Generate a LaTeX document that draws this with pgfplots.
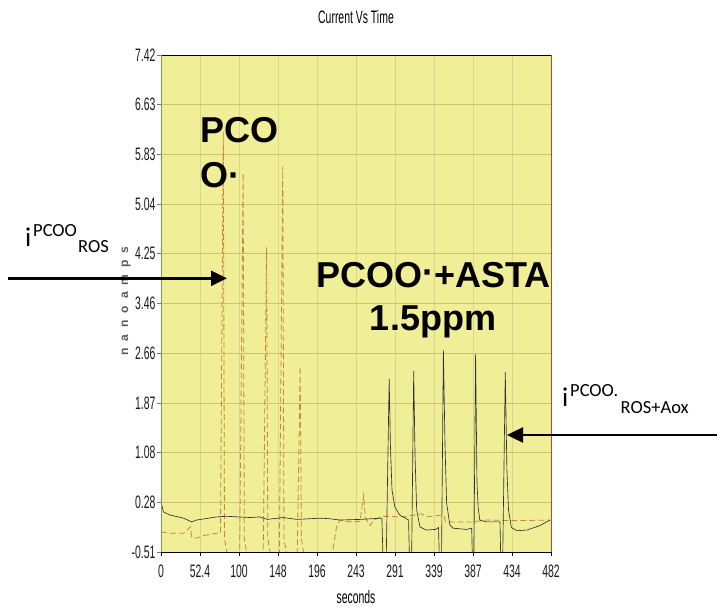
\documentclass[border=0pt]{standalone}
\usepackage{fontspec}
\setmainfont{Liberation Sans}
\newfontfamily\narrow[FakeStretch=0.58]{Liberation Sans}
\newfontfamily\calib{Carlito}
\usepackage{pgfplots}
\pgfplotsset{compat=1.18}
\usetikzlibrary{arrows.meta}

\definecolor{plotbg}{RGB}{240,238,150}
\definecolor{gridy}{RGB}{204,196,112}
\definecolor{gridx}{RGB}{218,212,140}
\definecolor{dashc}{RGB}{196,136,66}
\definecolor{leftc}{RGB}{120,160,64}
\definecolor{rightc}{RGB}{176,74,58}

\begin{document}
\begin{tikzpicture}[x=1pt,y=1pt]
\path[use as bounding box] (0,0) rectangle (717,608);
\begin{axis}[
    at={(161pt,56pt)}, anchor=south west,
    scale only axis, width=390pt, height=497pt,
    xmin=0, xmax=482, ymin=-0.51, ymax=7.42,
    xtick={0,48.2,96.4,144.6,192.8,241,289.2,337.4,385.6,433.8,482},
    xticklabels={0,52.4,100,148,196,243,291,339,387,434,482},
    ytick={-0.51,0.283,1.076,1.869,2.662,3.455,4.248,5.041,5.834,6.627,7.42},
    yticklabels={-0.51,0.28,1.08,1.87,2.66,3.46,4.25,5.04,5.83,6.63,7.42},
    xtick pos=bottom, ytick pos=left,
    tick align=outside, major tick length=4pt,
    xtick style={black, line width=0.6pt},
    ytick style={black!55, line width=0.6pt},
    ticklabel style={font=\narrow\fontsize{18}{18}\selectfont, text=black!90, inner sep=0pt},
    xticklabel style={anchor=north},
    yticklabel style={anchor=east},
    xticklabel shift=9pt, yticklabel shift=1.3pt,
    grid=major,
    major x grid style={gridx, line width=0.6pt},
    major y grid style={gridy, line width=0.6pt},
    axis line style={draw=none},
    axis background/.style={fill=plotbg},
    title={Current Vs Time},
    title style={font=\narrow\fontsize{18}{18}\selectfont, at={(axis description cs:0.5,1.0503)}, anchor=base, inner sep=0pt},
    xlabel={seconds},
    xlabel style={font=\narrow\fontsize{18}{18}\selectfont, at={(axis description cs:0.5,-0.1046)}, anchor=base, inner sep=0pt},
    ylabel={n\kern7pt a\kern7pt n\kern7pt o\kern7pt a\kern7pt m\kern7pt p\kern7pt s},
    ylabel style={font=\bfseries\fontsize{12}{12}\selectfont, text=black!65, at={(axis description cs:-0.0897,0.505)}, anchor=center, rotate=0, inner sep=0pt},
]
% dashed series (PCOO. peaks)
\addplot[dashc, line width=0.8pt, dash pattern=on 6pt off 3pt] coordinates {
(0,-0.19) (11,-0.21) (28,-0.21) (34,-0.14) (36,-0.11) (38,-0.27) (44,-0.29) (52,-0.25) (69,-0.21) (73.5,-0.21)
(77,6.2) (78.5,-0.3) (87,-0.9)
(97,-0.9) (101.5,5.53) (103,-0.3) (111,-0.9)
(126,-0.9) (130.5,4.35) (132,-0.3) (140,-0.9)
(146,-0.9) (150.5,5.64) (152,-0.3) (160,-0.9)
(168,-0.9) (172,2.45) (173.5,-0.3) (181,-0.9)
(209,-0.75) (217,-0.11) (221,0.00) (233,-0.03) (246,-0.02) (250.5,0.40) (252.5,0.03) (256.6,-0.05) (258.7,-0.09) (262.8,0.00) (272.7,0.06)
(300,0.05) (322,0.10) (328,0.05) (347,0.08) (350,0.06) (351.5,-0.03) (386,-0.03) (402,0.00) (440,-0.01) (481,0.00)
};
% solid series (PCOO. + ASTA 1.5 ppm)
\addplot[black!80, line width=0.65pt] coordinates {
(0,0.29) (3,0.13) (11,0.08) (28,0.03) (38,-0.03) (44,0.00) (69,0.05) (81,0.06) (110,0.04) (122,0.05) (131,0.01) (151,0.04) (168,0.01) (197,0.03) (209,0.02) (221,0.00) (246,0.01) (273,0.03)
(275,-0.9) (278,-0.9) (282,2.25) (283.5,1.2) (285.5,0.48) (289,0.21) (295,0.08) (302,0.03) (306,0.00)
(307.5,-0.9) (309.5,-0.9) (312.3,2.38) (314,1.0) (316,0.16) (320,-0.11) (328,-0.16) (339,-0.15) (343,-0.12)
(344.5,-0.9) (346.5,-0.9) (349,2.71) (351,1.2) (353,0.27) (357,-0.08) (361,-0.13) (378,-0.15) (384,-0.13)
(385.3,-0.9) (386.5,-0.9) (388.8,2.65) (390.5,0.6) (392,0.2) (394,0.00) (402,-0.03) (419,-0.03)
(420.3,-0.9) (422,-0.9) (425.5,2.36) (427.5,0.8) (429.5,0.16) (433,-0.12) (440,-0.17) (452,-0.16) (468,-0.09) (481,0.00)
};
\end{axis}
% frame
\draw[black, line width=0.8pt] (161,553) -- (551,553);
\draw[black, line width=0.8pt] (161,56) -- (551,56);
\draw[leftc, line width=0.8pt] (161,56) -- (161,553);
\draw[rightc, line width=0.8pt] (551,56) -- (551,553);
% annotations
\node[anchor=base west, inner sep=0pt, font=\bfseries\fontsize{36}{36}\selectfont] at (200,465.3) {PCO};
\node[anchor=base west, inner sep=0pt, font=\bfseries\fontsize{36}{36}\selectfont] at (200,420) {O·};
\node[anchor=base, inner sep=0pt, font=\bfseries\fontsize{36}{36}\selectfont] at (433.5,320.7) {PCOO\raisebox{3pt}{·}+ASTA};
\node[anchor=base, inner sep=0pt, font=\bfseries\fontsize{36}{36}\selectfont] at (433,277.3) {1.5ppm};
\node[anchor=base west, inner sep=0pt, font=\calib\fontsize{27}{27}\selectfont] at (25,361) {i};
\node[anchor=base west, inner sep=0pt, font=\calib\fontsize{18.5}{18.5}\selectfont] at (33,371) {PCOO};
\node[anchor=base west, inner sep=0pt, font=\calib\fontsize{18.5}{18.5}\selectfont] at (78,355) {ROS};
\node[anchor=base west, inner sep=0pt, font=\calib\fontsize{27}{27}\selectfont] at (562,201) {i};
\node[anchor=base west, inner sep=0pt, font=\calib\fontsize{18.5}{18.5}\selectfont] at (570,211.3) {PCOO.};
\node[anchor=base west, inner sep=0pt, font=\calib\fontsize{18.5}{18.5}\selectfont] at (620.5,194) {ROS+Aox};
\draw[line width=2.5pt, -{Triangle[length=16pt,width=15pt]}] (8,329.7) -- (227,329.7);
\draw[line width=2.5pt, -{Triangle[length=16pt,width=15pt]}] (717,173) -- (507,173);
\end{tikzpicture}
\end{document}
